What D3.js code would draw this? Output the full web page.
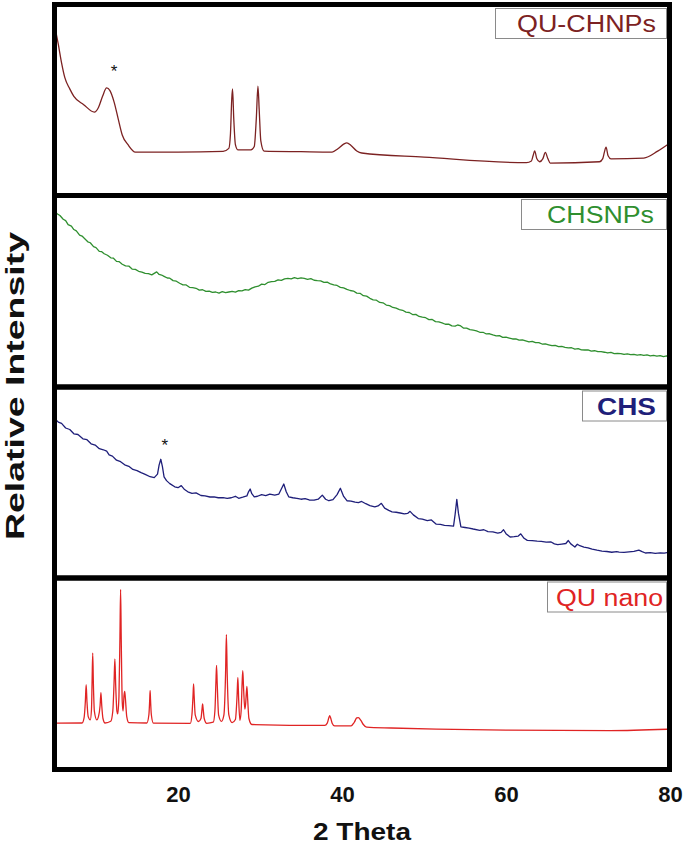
<!DOCTYPE html>
<html>
<head>
<meta charset="utf-8">
<script src="https://cdnjs.cloudflare.com/ajax/libs/d3/7.8.5/d3.min.js"></script>
<style>
  body { margin: 0; background: #fff; }
  svg { display: block; font-family: "Liberation Sans", Arial, sans-serif; }
</style>
</head>
<body>
<div id="chart"></div>
<script>
// XRD patterns, four stacked panels sharing one 2 Theta axis

var svgWidth = 685;
var svgHeight = 847;

// data: [2 theta, relative intensity 0-100 of panel height]
var quChnps = [
  [5.0, 89], [5.4, 80], [5.8, 70], [6.2, 62], [6.8, 56], [7.3, 52], [8.5, 47.5], [9.8, 43.5],
  [10.3, 46], [10.8, 52], [11.3, 56.5], [11.7, 55], [12.2, 49], [12.7, 40], [13.2, 31.2],
  [13.9, 26], [14.8, 22], [20, 22], [25.5, 22.4], [26.2, 24], [26.4, 32], [26.55, 50],
  [26.65, 56], [26.8, 40], [27.0, 26], [27.3, 23.2], [28.9, 23.2], [29.3, 25], [29.55, 40],
  [29.75, 57.5], [29.9, 45], [30.1, 28], [30.5, 22.5], [35, 22.2], [38.8, 22.0], [39.5, 23.8],
  [40.2, 26.3], [40.6, 27], [41.1, 25.5], [41.8, 22.6], [42.4, 21.5], [50, 19.3], [62.5, 16.3],
  [63.1, 17.2], [63.3, 20], [63.5, 22.6], [63.75, 18.5], [64.1, 16.8], [64.5, 18.5], [64.8, 21.8],
  [65.1, 18.5], [65.4, 16.1], [71.4, 16.8], [71.8, 18.5], [72.0, 22], [72.2, 24.7], [72.45, 20],
  [72.8, 18.4], [76.8, 18.8], [78.5, 22.5], [80, 27]
];

var chsnps = [
  [5.0, 92.6], [5.3, 91.4], [5.6, 90.6], [6.0, 88.6], [6.3, 87.9], [6.6, 85.7], [7.0, 84.9],
  [7.3, 83.1], [7.6, 82.4], [8.0, 80.1], [8.3, 79.6], [8.6, 78.3], [9.0, 76.5], [9.3, 76.0],
  [9.7, 73.9], [10.0, 73.4], [10.4, 71.4], [10.7, 71.2], [11.0, 70.1], [11.4, 69.3], [11.8, 67.9],
  [12.1, 67.8], [12.5, 66.0], [12.8, 65.9], [13.2, 64.5], [13.6, 63.6], [14.0, 63.5], [14.4, 61.9],
  [14.8, 61.7], [15.2, 60.7], [15.6, 60.3], [16.0, 59.6], [16.4, 59.4], [16.8, 58.8], [17.1, 59.6],
  [17.4, 60.4], [17.7, 59.0], [18.0, 58.7], [18.3, 58.0], [18.7, 57.1], [19.0, 57.0], [19.4, 55.7],
  [19.8, 55.4], [20.2, 54.3], [20.6, 53.4], [21.0, 53.4], [21.4, 52.1], [21.8, 51.9], [22.2, 51.6],
  [22.6, 50.6], [23.0, 50.8], [23.4, 49.9], [23.8, 50.1], [24.2, 49.4], [24.6, 49.6], [25.0, 49.0],
  [25.4, 49.8], [25.8, 49.3], [26.2, 49.6], [26.6, 49.9], [27.0, 49.5], [27.4, 50.3], [27.8, 50.2],
  [28.2, 50.9], [28.6, 50.6], [29.0, 51.7], [29.4, 52.4], [29.8, 52.7], [30.2, 53.8], [30.6, 53.6],
  [31.0, 54.8], [31.4, 55.2], [31.8, 55.3], [32.2, 56.1], [32.6, 55.8], [33.0, 56.6], [33.4, 56.9],
  [33.8, 56.6], [34.2, 57.3], [34.6, 56.8], [35.0, 57.2], [35.4, 56.9], [35.8, 56.4], [36.2, 56.8],
  [36.6, 55.9], [37.0, 55.7], [37.4, 55.6], [37.8, 54.8], [38.2, 54.9], [38.6, 53.9], [39.0, 53.4],
  [39.4, 53.1], [39.8, 52.1], [40.2, 51.8], [40.6, 51.0], [41.0, 50.4], [41.4, 50.1], [41.8, 49.0],
  [42.2, 48.9], [42.6, 47.6], [43.0, 47.4], [43.4, 46.2], [43.8, 45.4], [44.2, 45.2], [44.6, 44.0],
  [45.0, 43.8], [45.4, 42.6], [45.8, 42.3], [46.2, 41.3], [46.6, 40.9], [47.0, 40.2], [47.4, 39.8],
  [47.8, 38.8], [48.2, 38.6], [48.6, 37.5], [49.0, 37.6], [49.4, 36.5], [49.8, 36.1], [50.2, 35.8],
  [50.6, 34.8], [51.0, 34.9], [51.4, 33.7], [51.8, 33.6], [52.2, 33.0], [52.6, 32.3], [53.0, 32.4],
  [53.4, 31.4], [53.8, 31.3], [54.1, 31.9], [54.4, 31.6], [54.8, 30.3], [55.2, 30.2], [55.6, 29.4],
  [56.0, 29.1], [56.4, 28.8], [56.8, 28.0], [57.2, 28.0], [57.6, 27.1], [58.0, 27.2], [58.4, 26.6],
  [58.8, 26.1], [59.2, 26.2], [59.6, 25.3], [60.0, 25.4], [60.4, 24.9], [60.8, 24.4], [61.2, 24.5],
  [61.6, 23.8], [62.0, 23.9], [62.4, 23.4], [62.8, 22.9], [63.2, 23.1], [63.6, 22.4], [64.0, 22.5],
  [64.4, 21.7], [64.8, 21.8], [65.2, 21.3], [65.6, 20.8], [66.0, 21.0], [66.4, 20.3], [66.8, 20.4],
  [67.2, 19.9], [67.6, 19.6], [68.0, 19.7], [68.4, 19.0], [68.8, 19.2], [69.2, 18.6], [69.6, 18.5],
  [70.0, 18.6], [70.4, 17.9], [70.8, 18.1], [71.2, 17.6], [71.6, 17.6], [72.0, 17.3], [72.4, 16.9],
  [72.8, 17.2], [73.2, 16.6], [73.6, 16.7], [74.0, 16.6], [74.4, 16.1], [74.8, 16.4], [75.2, 16.0],
  [75.6, 16.2], [76.0, 15.8], [76.4, 16.0], [76.8, 15.6], [77.2, 15.9], [77.6, 15.4], [78.0, 15.6],
  [78.4, 15.2], [78.8, 15.5], [79.2, 15.0], [79.6, 15.3], [80.0, 15.1]
];

var chs = [
  [5.0, 84.0], [5.4, 82.5], [5.8, 81.8], [6.3, 79.3], [6.8, 78.5], [7.3, 76.2], [7.8, 75.8],
  [8.4, 73.5], [8.9, 73.0], [9.4, 70.8], [9.9, 70.1], [10.4, 68.2], [10.9, 67.6], [11.3, 66.9],
  [11.6, 64.9], [12.0, 64.2], [12.5, 62.0], [13.0, 61.2], [13.5, 59.5], [14.0, 58.7], [14.5, 57.0],
  [15.0, 56.4], [15.5, 55.3], [16.0, 54.4], [16.6, 53.1], [17.1, 52.6], [17.5, 54.5], [17.7, 59.5],
  [17.9, 62.5], [18.1, 58.5], [18.3, 53.0], [18.6, 51.0], [19.0, 49.4], [19.6, 47.7], [20.0, 47.2],
  [20.4, 48.3], [20.8, 46.2], [21.2, 45.0], [21.7, 44.2], [22.2, 44.4], [22.8, 43.0], [23.3, 42.8],
  [23.9, 42.2], [24.4, 42.3], [24.9, 41.8], [25.5, 41.9], [26.0, 41.5], [26.5, 41.8], [27.0, 42.6],
  [27.4, 41.5], [27.9, 42.1], [28.4, 42.8], [28.6, 45.0], [28.8, 46.5], [29.0, 44.0], [29.3, 42.3],
  [29.7, 42.6], [30.2, 43.5], [30.7, 43.0], [31.2, 43.8], [31.8, 43.2], [32.3, 43.8], [32.6, 46.5],
  [32.9, 49.2], [33.2, 45.0], [33.5, 42.3], [34.0, 41.8], [34.5, 41.5], [35.0, 41.0], [35.5, 41.3],
  [36.0, 40.6], [36.6, 40.5], [37.1, 41.0], [37.6, 43.2], [38.0, 41.0], [38.4, 40.2], [38.9, 40.8],
  [39.4, 43.5], [39.8, 46.9], [40.2, 42.5], [40.6, 40.2], [41.1, 40.0], [41.6, 39.4], [42.0, 39.2],
  [42.4, 39.8], [42.9, 38.6], [43.4, 37.6], [44.0, 36.9], [44.4, 37.4], [44.8, 38.8], [45.2, 36.2],
  [45.7, 35.0], [46.1, 34.2], [46.6, 34.0], [47.1, 33.6], [47.6, 33.1], [48.0, 33.4], [48.3, 34.5],
  [48.7, 32.6], [49.3, 30.6], [49.8, 30.3], [50.4, 29.5], [50.9, 29.9], [51.5, 27.6], [52.0, 27.5],
  [52.5, 27.0], [53.0, 26.8], [53.6, 26.5], [53.8, 33.0], [54.0, 40.9], [54.2, 33.5], [54.5, 26.1],
  [55.0, 25.8], [55.5, 25.5], [56.0, 25.0], [56.8, 24.3], [57.3, 24.6], [57.8, 23.6], [58.4, 23.4],
  [59.0, 22.8], [59.4, 23.2], [59.7, 24.6], [60.0, 22.5], [60.5, 20.7], [61.0, 20.9], [61.5, 21.2],
  [61.8, 22.4], [62.2, 20.0], [62.6, 18.9], [63.2, 18.8], [63.8, 18.5], [64.3, 18.3], [64.9, 17.9],
  [65.5, 18.0], [65.9, 17.0], [66.3, 16.6], [66.8, 16.9], [67.3, 17.2], [67.6, 18.8], [67.9, 17.0],
  [68.2, 16.0], [68.4, 15.3], [68.7, 16.8], [69.0, 16.0], [69.5, 15.3], [70.0, 14.9], [70.5, 14.2],
  [71.1, 13.6], [71.7, 13.1], [72.3, 12.9], [72.9, 12.5], [73.5, 12.8], [73.8, 12.6], [74.4, 12.4],
  [75.0, 12.7], [75.6, 13.0], [76.2, 13.6], [76.6, 12.8], [77.0, 12.1], [77.6, 12.3], [78.2, 11.9],
  [78.8, 12.2], [79.3, 12.0], [80.0, 12.7]
];

var quNano = [
  [5.0, 23.5], [8.3, 23.6], [8.55, 26.5], [8.7, 35], [8.8, 44.1], [8.9, 35], [9.05, 27],
  [9.3, 25.3], [9.45, 31], [9.52, 45], [9.6, 61.1], [9.68, 45], [9.8, 30], [10.1, 25.3],
  [10.3, 27], [10.5, 33], [10.6, 39.9], [10.7, 33], [10.85, 26], [11.1, 23.6], [11.8, 24.5],
  [12.05, 30], [12.2, 45], [12.3, 57.9], [12.4, 44], [12.55, 30], [12.65, 28.5], [12.8, 38],
  [12.92, 70], [13.0, 95.2], [13.08, 68], [13.2, 35], [13.3, 30], [13.42, 38.5], [13.5, 40.5],
  [13.58, 37], [13.75, 27], [14.0, 23.8], [16.2, 23.6], [16.45, 28], [16.55, 36], [16.6, 41],
  [16.65, 36], [16.75, 28], [17.0, 23.5], [21.5, 23.4], [21.7, 28], [21.83, 38], [21.9, 44.6],
  [21.97, 38], [22.1, 28], [22.5, 24.4], [22.8, 26], [22.93, 31], [23.0, 33.9], [23.07, 31],
  [23.2, 26], [23.5, 23.4], [24.3, 24.0], [24.5, 30], [24.62, 45], [24.7, 54.5], [24.78, 45],
  [24.95, 28], [25.3, 24.5], [25.6, 28], [25.8, 50], [25.9, 71], [26.0, 50], [26.2, 28],
  [26.6, 23.8], [27.0, 25.5], [27.2, 38], [27.3, 48], [27.4, 36], [27.55, 25], [27.7, 30],
  [27.82, 45], [27.9, 51.6], [28.0, 42], [28.15, 31], [28.25, 34], [28.4, 43.2], [28.5, 36],
  [28.65, 26], [29.0, 22.8], [37.9, 22.3], [38.2, 23.5], [38.4, 26.5], [38.5, 27.6], [38.6, 26.5],
  [38.8, 23.5], [39.1, 22.0], [41.1, 22.0], [41.5, 24], [41.8, 26.3], [42.0, 26.5], [42.3, 25],
  [42.6, 22.8], [43.0, 21.4], [46, 20.9], [51.5, 20.3], [60, 19.8], [72.7, 19.5], [80, 20.3]
];

var seriesNames = ["QU-CHNPs", "CHSNPs", "CHS", "QU nano"];
var seriesColors = ["#7c2222", "#2f8f2f", "#1f1f7a", "#e02424"];
var xTicks = [20, 40, 60, 80];

// asterisk marks: [panel, 2 theta, intensity]
var starMarks = [[0, 12.2, 67.7], [2, 18.4, 71.9]];

// layout
var frameLeft = 54.5;
var frameRight = 669.5;
var panelEdges = [4.5, 195.5, 387, 578, 769.5];
var frameStroke = 5;
var labelBoxLeft = [495, 521, 582, 547];
var labelTextStart = [517, 547, 597, 556];
var labelTextLength = [139, 107, 59, 107];

var svg = d3.select("#chart")
  .append("svg")
  .attr("width", svgWidth)
  .attr("height", svgHeight);

var x = d3.scaleLinear().domain([5, 80]).range([55, 670]);

var seriesList = [quChnps, chsnps, chs, quNano];
var defs = svg.append("defs");

seriesList.forEach(function(series, i) {
  var top = panelEdges[i] + frameStroke / 2;
  var bottom = panelEdges[i + 1] - frameStroke / 2;

  var y = d3.scaleLinear().domain([0, 100]).range([bottom, top]);

  defs.append("clipPath")
    .attr("id", "clip" + i)
    .append("rect")
    .attr("x", frameLeft + frameStroke / 2)
    .attr("y", top)
    .attr("width", frameRight - frameLeft - frameStroke)
    .attr("height", bottom - top);

  // crystalline traces get a smooth curve, noisy ones stay linear
  var line = d3.line()
    .x(function(d) { return x(d[0]); })
    .y(function(d) { return y(d[1]); })
    .curve(i === 0 || i === 3 ? d3.curveMonotoneX : d3.curveLinear);

  svg.append("path")
    .datum(series)
    .attr("clip-path", "url(#clip" + i + ")")
    .attr("fill", "none")
    .attr("stroke", seriesColors[i])
    .attr("stroke-width", 1.3)
    .attr("stroke-linejoin", "round")
    .attr("d", line);

  starMarks.filter(function(s) { return s[0] === i; }).forEach(function(s) {
    svg.append("text")
      .attr("x", x(s[1]))
      .attr("y", y(s[2]))
      .attr("dy", "0.57em")
      .attr("text-anchor", "middle")
      .attr("font-size", 17)
      .attr("fill", "#111")
      .text("*");
  });

  // panel frame
  svg.append("rect")
    .attr("x", frameLeft)
    .attr("y", panelEdges[i])
    .attr("width", frameRight - frameLeft)
    .attr("height", panelEdges[i + 1] - panelEdges[i])
    .attr("fill", "none")
    .attr("stroke", "#000")
    .attr("stroke-width", frameStroke);

  // label box in the top right corner
  svg.append("rect")
    .attr("x", labelBoxLeft[i] + 0.5)
    .attr("y", top + 1.5)
    .attr("width", frameRight - frameStroke / 2 - labelBoxLeft[i] - 1)
    .attr("height", 30)
    .attr("fill", "#fff")
    .attr("stroke", "#8a8a8a")
    .attr("stroke-width", 1);

  svg.append("text")
    .attr("x", labelTextStart[i])
    .attr("y", top + 25)
    .attr("font-size", 23)
    .attr("font-weight", i === 2 ? "bold" : "normal")
    .attr("textLength", labelTextLength[i])
    .attr("lengthAdjust", "spacingAndGlyphs")
    .attr("fill", seriesColors[i])
    .text(seriesNames[i]);
});

// shared x axis, labels only
svg.append("g")
  .attr("transform", "translate(0," + panelEdges[4] + ")")
  .call(d3.axisBottom(x).tickValues(xTicks).tickSize(0).tickPadding(17))
  .call(function(g) { g.select(".domain").remove(); })
  .call(function(g) {
    g.selectAll("text")
      .attr("font-family", "'Liberation Sans', Arial, sans-serif")
      .attr("font-size", 22)
      .attr("font-weight", "bold")
      .attr("fill", "#111");
  });

svg.append("text")
  .attr("x", 362)
  .attr("y", 840)
  .attr("text-anchor", "middle")
  .attr("font-size", 23)
  .attr("font-weight", "bold")
  .attr("textLength", 98)
  .attr("lengthAdjust", "spacingAndGlyphs")
  .attr("fill", "#111")
  .text("2 Theta");

svg.append("text")
  .attr("transform", "translate(24,386) rotate(-90)")
  .attr("text-anchor", "middle")
  .attr("font-size", 26)
  .attr("font-weight", "bold")
  .attr("textLength", 308)
  .attr("lengthAdjust", "spacingAndGlyphs")
  .attr("fill", "#111")
  .text("Relative Intensity");
</script>
</body>
</html>
